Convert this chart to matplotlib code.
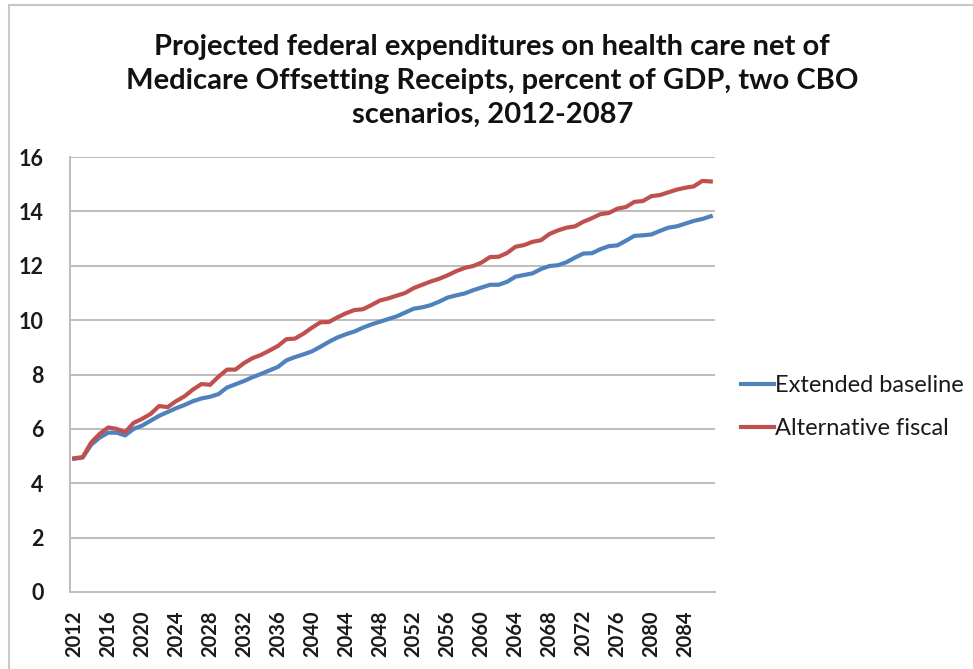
import matplotlib
matplotlib.use("Agg")
import matplotlib.pyplot as plt
import numpy as np
from matplotlib.patches import Rectangle

plt.rcParams["font.family"] = ["Lato", "DejaVu Sans"]

years = list(range(2012, 2088))

extended_baseline = [
    4.90, 4.95, 5.42, 5.68, 5.86, 5.86, 5.76, 6.00, 6.12, 6.30,
    6.48, 6.62, 6.76, 6.88, 7.02, 7.12, 7.18, 7.28, 7.52, 7.64,
    7.76, 7.90, 8.02, 8.15, 8.28, 8.52, 8.64, 8.74, 8.85, 9.02,
    9.20, 9.36, 9.48, 9.58, 9.72, 9.84, 9.94, 10.04, 10.14, 10.28,
    10.42, 10.47, 10.55, 10.68, 10.83, 10.91, 10.98, 11.10, 11.20, 11.30,
    11.30, 11.41, 11.60, 11.66, 11.72, 11.88, 11.99, 12.02, 12.13, 12.30,
    12.45, 12.46, 12.61, 12.72, 12.75, 12.92, 13.10, 13.12, 13.15, 13.28,
    13.40, 13.45, 13.55, 13.65, 13.72, 13.82,
]

alternative_fiscal = [
    4.92, 4.96, 5.50, 5.82, 6.05, 6.00, 5.88, 6.22, 6.37, 6.55,
    6.84, 6.80, 7.02, 7.20, 7.45, 7.65, 7.62, 7.92, 8.18, 8.18,
    8.42, 8.60, 8.72, 8.88, 9.05, 9.30, 9.32, 9.50, 9.72, 9.92,
    9.93, 10.10, 10.25, 10.37, 10.40, 10.55, 10.72, 10.80, 10.90, 11.00,
    11.18, 11.30, 11.42, 11.52, 11.65, 11.80, 11.92, 11.99, 12.12, 12.32,
    12.33, 12.47, 12.70, 12.76, 12.88, 12.94, 13.17, 13.30, 13.40, 13.45,
    13.62, 13.75, 13.90, 13.94, 14.10, 14.16, 14.35, 14.38, 14.56, 14.60,
    14.70, 14.80, 14.87, 14.92, 15.12, 15.10,
]

series_names = ["Extended baseline", "Alternative fiscal"]
series_colors = ["#4F81BD", "#C0504D"]

title = ("Projected federal expenditures on health care net of\n"
         "Medicare Offsetting Receipts, percent of GDP, two CBO\n"
         "scenarios, 2012-2087")

W, H = 973, 669
fig = plt.figure(figsize=(W / 100, H / 100), dpi=100)

# light chart-area frame
fig.patches.append(Rectangle((9 / W, -0.05), 1.1, 1 - 5 / H + 0.05,
                             transform=fig.transFigure, fill=False,
                             edgecolor="#c8c8c8", linewidth=1.5))

ax = fig.add_axes([70 / W, 1 - 592 / H, 645 / W, 435 / H])

x = np.arange(len(years))
for vals, name, color in zip([extended_baseline, alternative_fiscal],
                             series_names, series_colors):
    ax.plot(x, vals, color=color, linewidth=3.0, label=name,
            solid_joinstyle="round")

ax.set_xlim(-0.5, len(years) - 0.5)
ax.set_ylim(0, 16)
ax.set_yticks(range(0, 17, 2))
ax.set_xticks(x[::4])
ax.set_xticklabels([str(y) for y in years[::4]], rotation=90)

ax.yaxis.grid(True, color="#bdbdbd", linewidth=1.4)
ax.set_axisbelow(True)
for side in ["top", "right"]:
    ax.spines[side].set_visible(False)
for side in ["left", "bottom"]:
    ax.spines[side].set_color("#bdbdbd")
    ax.spines[side].set_linewidth(1.4)

ax.tick_params(axis="y", length=0, pad=19, labelsize=15.5, labelcolor="#1a1a1a")
ax.tick_params(axis="x", length=0, pad=13, labelsize=14.5, labelcolor="#1a1a1a")
for lab in ax.get_xticklabels() + ax.get_yticklabels():
    lab.set_fontweight("bold")

fig.text(0.506, 1 - 81 / H, title, ha="center", va="center",
         fontsize=21, fontweight="bold", linespacing=1.38, color="#111111")

leg = ax.legend(loc="center left", bbox_to_anchor=(1.025, 0.425), frameon=False,
                fontsize=17, handlelength=1.4, handletextpad=0.05,
                labelspacing=0.95, borderaxespad=0)
for t in leg.get_texts():
    t.set_color("#1a1a1a")

fig.savefig("out.png", dpi=100, facecolor="white")
plt.close(fig)
